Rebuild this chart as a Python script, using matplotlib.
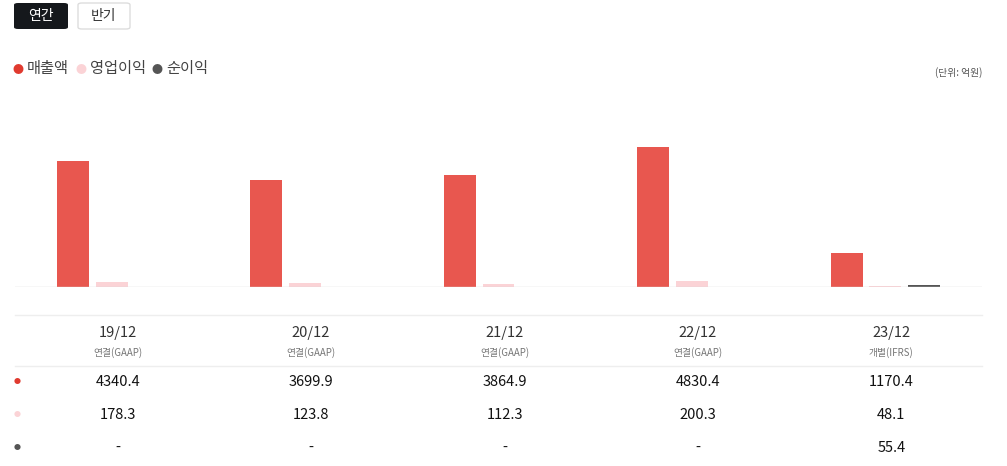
import matplotlib
matplotlib.use("Agg")
import matplotlib.pyplot as plt
from matplotlib.patches import FancyBboxPatch, Circle
import numpy as np

plt.rcParams['font.family'] = ['Noto Sans CJK KR', 'DejaVu Sans']

periods = ["19/12", "20/12", "21/12", "22/12", "23/12"]
basis = ["연결(GAAP)", "연결(GAAP)", "연결(GAAP)", "연결(GAAP)", "개별(IFRS)"]
revenue = [4340.4, 3699.9, 3864.9, 4830.4, 1170.4]
op_income = [178.3, 123.8, 112.3, 200.3, 48.1]
net_income = [None, None, None, None, 55.4]
series_names = ["매출액", "영업이익", "순이익"]
colors = ["#e8574f", "#fbd3d6", "#555555"]
dot_colors = ["#e03a2f", "#fbd3d6", "#555555"]

W, H = 1007, 466
fig = plt.figure(figsize=(W/100, H/100), dpi=100)

def px(x, y):
    return x / W, 1 - y / H

# axes: x 15..982, top 100, baseline 287
ax = fig.add_axes([15/W, 1-287/H, 967/W, 187/H])
n = len(periods)
x = np.arange(n)
ymax = 4830.4 * 187 / 140
bw = 0.165
ax.bar(x - 0.2, revenue, bw, color=colors[0])
ax.bar(x, op_income, bw, color=colors[1])
ax.bar(x + 0.2, [v if v is not None else 0 for v in net_income], bw, color=colors[2])
ax.set_xlim(-0.5, n - 0.5)
ax.set_ylim(0, ymax)
ax.axis('off')
ax.axhline(0, color="#d8d8d8", lw=1)

# buttons
fig.patches.append(FancyBboxPatch(px(14, 29), 54/W, 26/H, boxstyle="round,pad=0,rounding_size=0.004",
                                  transform=fig.transFigure, fc="#15181c", ec="none"))
fig.text(*px(41, 16), "연간", color="white", fontsize=10, ha="center", va="center")
fig.patches.append(FancyBboxPatch(px(78, 29), 52/W, 26/H, boxstyle="round,pad=0,rounding_size=0.004",
                                  transform=fig.transFigure, fc="white", ec="#dddddd", lw=1))
fig.text(*px(104, 16), "반기", color="#333333", fontsize=10, ha="center", va="center")

# legend
lx = [18, 81, 157]
for i, name in enumerate(series_names):
    fig.text(*px(lx[i], 70), "●", color=dot_colors[i], fontsize=8, ha="center", va="center")
    fig.text(*px(lx[i] + 9, 69), name, color="#444444", fontsize=11, ha="left", va="center")
fig.text(*px(982, 73), "(단위: 억원)", color="#555555", fontsize=7, ha="right", va="center")

# table
for yy in [315, 366]:
    fig.add_artist(plt.Line2D([15/W, 982/W], [1-yy/H]*2, color="#eeeeee", lw=1))
for i in range(n):
    cx = 15 + (i + 0.5) * 967 / n + 6
    fig.text(*px(cx, 333), periods[i], fontsize=10.5, color="#333333", ha="center", va="center")
    fig.text(*px(cx, 353), basis[i], fontsize=7, color="#777777", ha="center", va="center")
    fig.text(*px(cx, 382), f"{revenue[i]:.1f}", fontsize=10.5, color="#111111", ha="center", va="center")
    fig.text(*px(cx, 415), f"{op_income[i]:.1f}", fontsize=10.5, color="#111111", ha="center", va="center")
    v = net_income[i]
    fig.text(*px(cx, 448), "-" if v is None else f"{v:.1f}", fontsize=10.5, color="#111111", ha="center", va="center")
for j, yy in enumerate([382, 415, 448]):
    fig.text(*px(17, yy), "●", color=dot_colors[j], fontsize=5, ha="center", va="center")

fig.savefig("out.png", dpi=100, facecolor="white")
